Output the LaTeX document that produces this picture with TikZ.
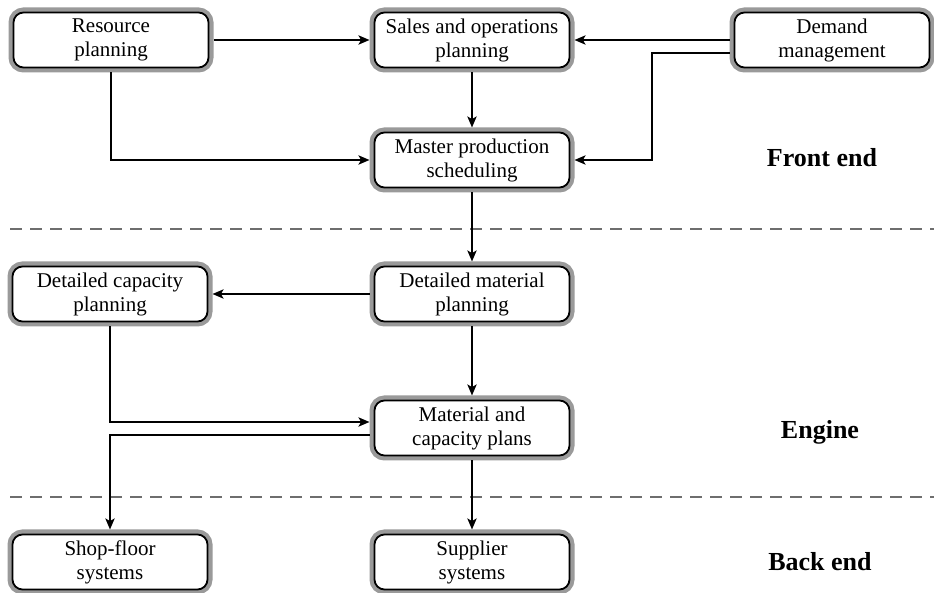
\documentclass[tikz,border=0pt]{standalone}
\usepackage{fontspec}
\setmainfont{Liberation Serif}
\usetikzlibrary{arrows.meta,positioning}
\definecolor{PlanRing}{HTML}{9A9A9A}
\definecolor{PlanDash}{HTML}{6E6E6E}
\begin{document}
\begin{tikzpicture}[x=.5pt,y=-.5pt,
  planbox/.style={draw=black,line width=.9pt,fill=white,rounded corners=5pt,align=center,
    minimum width=97.5pt,minimum height=27.5pt,outer sep=2.5pt,inner sep=1pt,
    font=\fontsize{10.5}{12}\selectfont,
    preaction={draw=PlanRing,line width=5pt,rounded corners=5pt}},
  flow/.style={-{Stealth[length=5.5pt,width=4.6pt,inset=1.3pt]},line width=1pt},
  tier/.style={font=\fontsize{13}{15}\selectfont\bfseries},
  split/.style={draw=PlanDash,line width=.7pt,dash pattern=on 6pt off 4pt}]
\useasboundingbox (0,0) rectangle (934,593);
\draw[split] (10,229)--(934,229);
\draw[split] (10,497)--(934,497);
\node[planbox] (res) at (111,40) {Resource\\planning};
\node[planbox] (sop) at (472,40) {Sales and operations\\planning};
\node[planbox] (dem) at (832,40) {Demand\\management};
\node[planbox] (mps) at (472,160) {Master production\\scheduling};
\node[planbox] (dmp) at (472,294) {Detailed material\\planning};
\node[planbox] (dcp) at (110,294) {Detailed capacity\\planning};
\node[planbox] (mcp) at (472,428) {Material and\\capacity plans};
\node[planbox] (shop) at (110,562) {Shop-floor\\systems};
\node[planbox] (sup) at (472,562) {Supplier\\systems};
\node[tier] (front) at (822,158) {Front end};
\node[tier] (engine) at (820,432) {Engine};
\node[tier] (back) at (820,562) {Back end};
% front end flows
\draw[flow] (res)--(sop);
\draw[flow] (res.south) |- (mps.west);
\draw[flow] (dem)--(sop);
\draw[flow] ([yshift=-6.5pt]dem.west) -- ++(-78,0) |- (mps.east);
\draw[flow] (sop)--(mps);
% engine flows
\draw[flow] (mps)--(dmp);
\draw[flow] (dmp)--(dcp);
\draw[flow] (dmp)--(mcp);
\draw[flow] (dcp.south) |- ([yshift=3pt]mcp.west);
% back end flows
\draw[flow] ([yshift=-3.5pt]mcp.west) -| (shop.north);
\draw[flow] (mcp)--(sup);
\end{tikzpicture}
\end{document}
